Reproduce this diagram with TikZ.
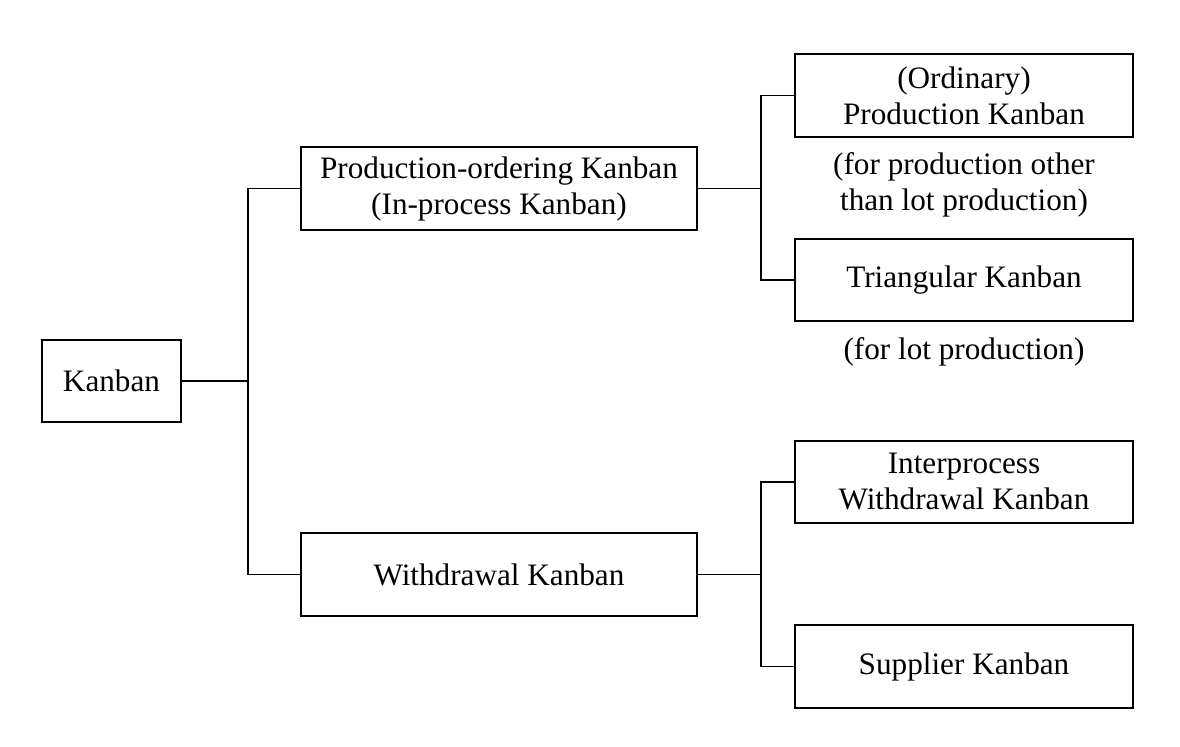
\documentclass[tikz,border=0pt]{standalone}
\usepackage{fontspec}
\setmainfont{Liberation Serif}
\begin{document}
\begin{tikzpicture}[x=0.75pt,y=-0.75pt,
  box/.style={draw,line width=1.1pt,align=center,inner sep=0pt,font=\fontsize{23.4}{27}\selectfont},
  lbl/.style={align=center,inner sep=0pt,font=\fontsize{23.4}{27}\selectfont},
  conn/.style={line width=1.1pt}]
\useasboundingbox[fill=white] (0,0) rectangle (1180,746);
\node[box,minimum width=104.25pt,minimum height=61.5pt] (k) at (111.5,381) {Kanban};
\node[box,minimum width=297pt,minimum height=62.25pt] (po) at (499,188.5) {Production-ordering Kanban\\(In-process Kanban)};
\node[box,minimum width=297pt,minimum height=62.25pt] (wd) at (499,574.5) {Withdrawal Kanban};
\node[box,minimum width=253.5pt,minimum height=62.25pt] (pk) at (964,95.5) {(Ordinary)\\Production Kanban};
\node[box,minimum width=253.5pt,minimum height=61.5pt] (tk) at (964,280) {Triangular Kanban};
\node[box,minimum width=253.5pt,minimum height=61.5pt] (ik) at (964,482) {Interprocess\\Withdrawal Kanban};
\node[box,minimum width=253.5pt,minimum height=62.25pt] (sk) at (964,666.5) {Supplier Kanban};
\node[lbl] (l1) at (964,185) {(for production other\\than lot production)};
\node[lbl] (l2) at (964,352) {(for lot production)};
\coordinate (j1) at (248,381);
\coordinate (j2) at (761,188.5);
\coordinate (j3) at (761,574.5);
\draw[conn] (k.east) -- (j1);
\draw[conn] (po.west) -| (j1) |- (wd.west);
\draw[conn] (po.east) -- (j2);
\draw[conn] (pk.west) -| (j2) |- (tk.west);
\draw[conn] (wd.east) -- (j3);
\draw[conn] (ik.west) -| (j3) |- (sk.west);
\end{tikzpicture}
\end{document}
